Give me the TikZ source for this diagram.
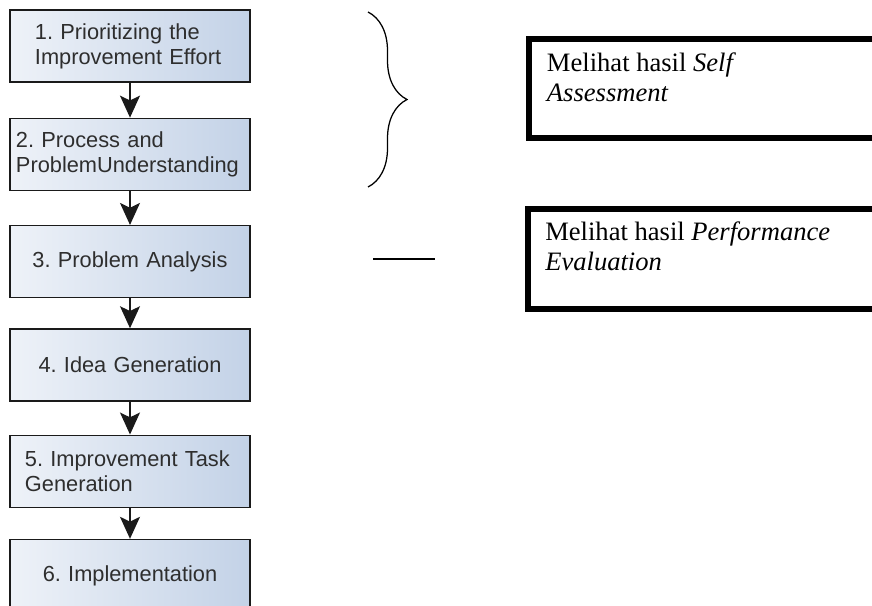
\documentclass[tikz,border=0pt]{standalone}
\usepackage{fontspec}
\setmainfont{Liberation Serif}
\setsansfont{Liberation Sans}
\usetikzlibrary{arrows.meta, positioning, decorations.pathreplacing}
\frenchspacing
\definecolor{stepEdge}{HTML}{1A1A1A}
\definecolor{stepLight}{HTML}{EEF2F8}
\definecolor{stepBlue}{HTML}{C3D2E7}
\definecolor{stepText}{HTML}{2E2E2E}
\tikzset{
  arrowS/.style={-{Stealth[length=5.5mm, width=5mm, inset=1.2mm]}, stepEdge, line width=1pt},
  stepBox/.style={rectangle, draw=stepEdge, line width=0.9pt, left color=stepLight,
                  right color=stepBlue, minimum width=6cm, minimum height=1.8cm,
                  inner sep=0pt, text=stepText, font=\sffamily\fontsize{15.5}{17.8}\selectfont},
  noteFrame/.style={rectangle, draw=black, line width=0.15cm, minimum width=9.35cm,
                    anchor=north west, inner sep=0pt},
  noteText/.style={anchor=north west, align=left, inner sep=0pt,
                   font=\fontsize{18.9}{21.3}\selectfont},
  markLine/.style={black, line width=0.9pt},
}
\begin{document}
\begin{tikzpicture}[x=0.025cm, y=-0.025cm]
  \useasboundingbox (0,0) rectangle (872,605);
  % steps
  \node[stepBox, text width=4.75cm, align=left] (b1) at (130,46) {1. Prioritizing the\\Improvement Effort};
  \node[stepBox, text width=5.7cm, align=left, below=0.875cm of b1] (b2) {2. Process and\\ProblemUnderstanding};
  \node[stepBox, text width=5.7cm, align=center, below=0.85cm of b2] (b3) {3. Problem Analysis};
  \node[stepBox, text width=5.7cm, align=center, below=0.75cm of b3] (b4) {4. Idea Generation};
  \node[stepBox, text width=5.25cm, align=left, below=0.825cm of b4] (b5) {5. Improvement Task\\Generation};
  \node[stepBox, text width=5.7cm, align=center, below=0.775cm of b5] (b6) {6. Implementation};
  \draw[arrowS] (b1) -- (b2);
  \draw[arrowS] (b2) -- (b3);
  \draw[arrowS] (b3) -- (b4);
  \draw[arrowS] (b4) -- (b5);
  \draw[arrowS] (b5) -- (b6);
  % notes on the right
  \node[noteFrame, minimum height=2.475cm] (selfBox) at (526,36.3) {};
  \node[noteFrame, minimum height=2.5cm] (perfBox) at (525,206.3) {};
  \node[noteText] (selfNote) at (546.7,52.5) {Melihat hasil \textit{Self}\\\textit{Assessment}};
  \node[noteText] (perfNote) at (545,222) {Melihat hasil \textit{Performance}\\\textit{Evaluation}};
  \coordinate (braceTop) at (368,12);
  \coordinate (braceBot) at (368,187);
  \draw[markLine, decorate, decoration={brace, amplitude=0.975cm}] (braceTop) -- (braceBot);
  \coordinate (dashL) at (373,259);
  \coordinate (dashR) at (435,259);
  \draw[markLine] (dashL) -- (dashR);
\end{tikzpicture}
\end{document}
